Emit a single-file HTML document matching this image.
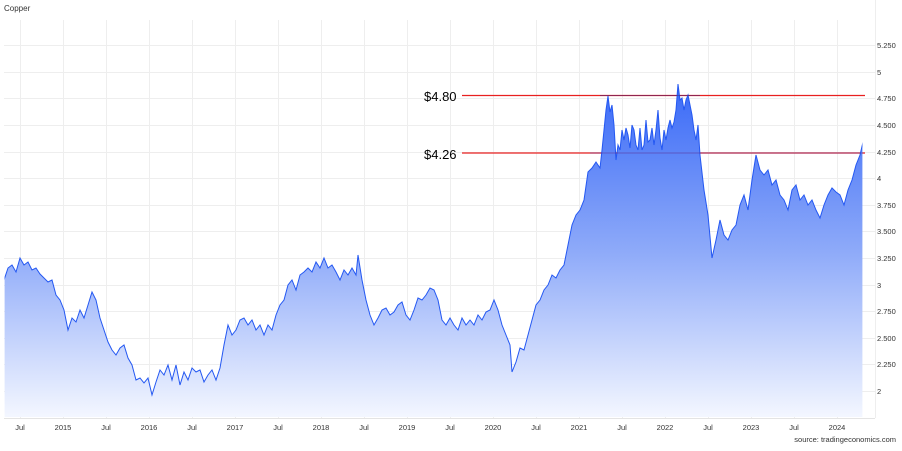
<!DOCTYPE html>
<html><head><meta charset="utf-8"><style>
body{margin:0;background:#fff;}
svg text{font-family:"Liberation Sans",sans-serif;}
</style></head><body>
<svg width="902" height="446" viewBox="0 0 902 446" xmlns="http://www.w3.org/2000/svg">
<defs>
<linearGradient id="g" x1="0" y1="85" x2="0" y2="418" gradientUnits="userSpaceOnUse">
<stop offset="0" stop-color="#3a6af7"/>
<stop offset="0.5" stop-color="#8eaaf9"/>
<stop offset="1" stop-color="#f4f7ff"/>
</linearGradient>
<clipPath id="c"><rect x="4.6" y="0" width="857.8" height="417"/></clipPath>
</defs>
<rect width="902" height="446" fill="#fff"/>
<text x="4" y="11" font-size="8" fill="#333">Copper</text>
<g stroke="#eeeeee" stroke-width="1">
<line x1="4" y1="45.5" x2="875" y2="45.5"/><line x1="4" y1="72.5" x2="875" y2="72.5"/>
<line x1="4" y1="98.5" x2="875" y2="98.5"/><line x1="4" y1="125.5" x2="875" y2="125.5"/>
<line x1="4" y1="152.5" x2="875" y2="152.5"/><line x1="4" y1="178.5" x2="875" y2="178.5"/>
<line x1="4" y1="205.5" x2="875" y2="205.5"/><line x1="4" y1="231.5" x2="875" y2="231.5"/>
<line x1="4" y1="258.5" x2="875" y2="258.5"/><line x1="4" y1="285.5" x2="875" y2="285.5"/>
<line x1="4" y1="311.5" x2="875" y2="311.5"/><line x1="4" y1="338.5" x2="875" y2="338.5"/>
<line x1="4" y1="364.5" x2="875" y2="364.5"/><line x1="4" y1="391.5" x2="875" y2="391.5"/>
<line x1="20.5" y1="20" x2="20.5" y2="418"/><line x1="63.5" y1="20" x2="63.5" y2="418"/>
<line x1="106.5" y1="20" x2="106.5" y2="418"/><line x1="149.5" y1="20" x2="149.5" y2="418"/>
<line x1="192.5" y1="20" x2="192.5" y2="418"/><line x1="235.5" y1="20" x2="235.5" y2="418"/>
<line x1="278.5" y1="20" x2="278.5" y2="418"/><line x1="321.5" y1="20" x2="321.5" y2="418"/>
<line x1="364.5" y1="20" x2="364.5" y2="418"/><line x1="407.5" y1="20" x2="407.5" y2="418"/>
<line x1="450.5" y1="20" x2="450.5" y2="418"/><line x1="493.5" y1="20" x2="493.5" y2="418"/>
<line x1="536.5" y1="20" x2="536.5" y2="418"/><line x1="579.5" y1="20" x2="579.5" y2="418"/>
<line x1="622.5" y1="20" x2="622.5" y2="418"/><line x1="665.5" y1="20" x2="665.5" y2="418"/>
<line x1="708.5" y1="20" x2="708.5" y2="418"/><line x1="751.5" y1="20" x2="751.5" y2="418"/>
<line x1="794.5" y1="20" x2="794.5" y2="418"/><line x1="837.5" y1="20" x2="837.5" y2="418"/>
<line x1="875.5" y1="0" x2="875.5" y2="418"/>
</g>
<line x1="462" y1="95.5" x2="865" y2="95.5" stroke="#e82020" stroke-width="1.2"/>
<line x1="462" y1="153" x2="865" y2="153" stroke="#e82020" stroke-width="1.2"/>
<path clip-path="url(#c)" d="M4 418 L4 280 L8 268 12 265 16 272 20 258 24 265 28 262 32 270 36 268 40 274 44 278 48 282 52 280 56 295 60 300 64 310 68 330 72 318 76 322 80 310 84 318 88 305 92 292 96 300 100 318 104 330 108 342 112 350 116 355 120 348 124 345 128 358 132 365 136 380 140 378 144 383 148 378 152 395 156 382 160 370 164 375 168 365 172 380 176 365 180 385 184 372 188 380 192 368 196 372 200 370 204 382 208 375 212 370 216 380 220 368 224 345 228 325 232 335 236 330 240 320 244 318 248 325 252 320 256 330 260 325 264 335 268 325 272 330 276 315 280 305 284 300 288 285 292 280 296 290 300 275 304 272 308 268 312 272 316 262 320 268 324 258 328 268 332 265 336 272 340 280 344 270 348 275 352 268 356 275 358 255 362 280 366 300 370 315 374 325 378 318 382 310 386 308 390 315 394 312 398 305 402 302 406 315 410 320 414 310 418 298 422 300 426 295 430 288 434 290 438 300 442 320 446 325 450 318 454 325 458 330 462 318 466 325 470 320 474 325 478 315 482 320 486 312 490 310 494 300 498 310 502 325 506 335 510 345 512 372 516 362 520 348 524 350 528 335 532 320 536 305 540 300 544 290 548 285 552 275 556 278 560 270 564 265 568 245 572 225 576 215 580 210 584 200 588 172 592 168 596 162 600 168 602 150 604 130 606 110 608 96 610 112 612 105 614 125 616 160 618 145 620 150 622 130 624 140 626 128 628 135 630 148 632 125 634 130 636 145 638 150 640 128 642 150 644 145 646 120 648 142 650 140 652 128 654 145 656 130 658 110 660 138 662 150 664 130 666 140 668 128 670 120 672 128 674 122 676 110 678 84 680 100 682 98 684 110 686 100 688 95 690 105 692 115 694 130 696 140 698 125 700 155 704 190 708 215 712 258 716 240 720 220 724 235 728 240 732 230 736 225 740 205 744 195 748 210 752 180 756 155 760 170 764 175 768 170 772 185 776 180 780 195 784 200 788 210 792 190 796 185 800 200 804 195 808 205 812 200 816 210 820 218 824 205 828 195 832 188 836 192 840 195 844 205 848 190 852 180 856 165 860 155 863 142 L863 418 Z" fill="url(#g)" stroke="#2458f2" stroke-width="1"/>
<line x1="600" y1="95.5" x2="700" y2="95.5" stroke="#3a2a80" stroke-width="1" opacity="0.5"/>
<line x1="590" y1="153" x2="863" y2="153" stroke="#5a2a90" stroke-width="1" opacity="0.5"/>
<line x1="4" y1="418.5" x2="875" y2="418.5" stroke="#e4e4e4"/>
<text x="424" y="101" font-size="13" fill="#000">$4.80</text>
<text x="424" y="159" font-size="13" fill="#000">$4.26</text>
<g font-size="7.5" fill="#333">
<text x="877" y="48">5.250</text><text x="877" y="75">5</text><text x="877" y="101">4.750</text>
<text x="877" y="128">4.500</text><text x="877" y="155">4.250</text><text x="877" y="181">4</text>
<text x="877" y="208">3.750</text><text x="877" y="234">3.500</text><text x="877" y="261">3.250</text>
<text x="877" y="288">3</text><text x="877" y="314">2.750</text><text x="877" y="341">2.500</text>
<text x="877" y="367">2.250</text><text x="877" y="394">2</text>
</g>
<g font-size="7.5" fill="#333" text-anchor="middle">
<text x="20" y="430">Jul</text><text x="63" y="430">2015</text><text x="106" y="430">Jul</text>
<text x="149" y="430">2016</text><text x="192" y="430">Jul</text><text x="235" y="430">2017</text>
<text x="278" y="430">Jul</text><text x="321" y="430">2018</text><text x="364" y="430">Jul</text>
<text x="407" y="430">2019</text><text x="450" y="430">Jul</text><text x="493" y="430">2020</text>
<text x="536" y="430">Jul</text><text x="579" y="430">2021</text><text x="622" y="430">Jul</text>
<text x="665" y="430">2022</text><text x="708" y="430">Jul</text><text x="751" y="430">2023</text>
<text x="794" y="430">Jul</text><text x="837" y="430">2024</text>
</g>
<text x="896" y="442" font-size="7.5" fill="#333" text-anchor="end">source: tradingeconomics.com</text>
</svg>
</body></html>
